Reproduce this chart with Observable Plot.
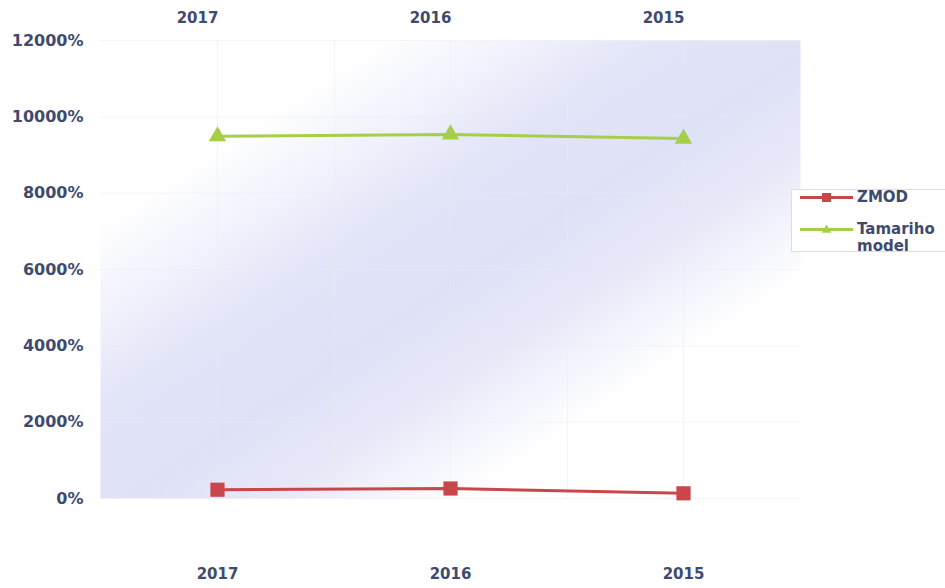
<!DOCTYPE html>
<html>
<head>
<meta charset="utf-8">
<script src="https://cdn.jsdelivr.net/npm/d3@7"></script>
<script src="https://cdn.jsdelivr.net/npm/@observablehq/plot@0.6"></script>
<style>
  html, body { margin: 0; padding: 0; background: #fff; }
  #wrap { position: relative; width: 945px; height: 588px; overflow: hidden; font-family: "DejaVu Sans", sans-serif; }
  #legend { position: absolute; left: 791px; top: 189px; width: 170px; height: 63px; border: 1px solid #dcdce2; background: #fff; box-sizing: border-box; }
  .item { position: absolute; left: 8px; display: flex; align-items: flex-start; }
  .lbl { font-weight: bold; font-size: 15px; color: #3e4a6e; line-height: 17px; margin-left: 4px; margin-top: -1px; }
</style>
</head>
<body>
<div id="wrap"></div>
<script>
const years = ["2017", "2016", "2015"];
const zmod = [230, 262, 136];
const tamariho = [9490, 9540, 9430];
const yTicks = [0, 2000, 4000, 6000, 8000, 10000, 12000];
const seriesNames = ["ZMOD", "Tamariho model"];
const seriesColors = ["#c9474b", "#a5cf48"];

const zRows = years.map((y, i) => ({year: y, value: zmod[i]}));
const tRows = years.map((y, i) => ({year: y, value: tamariho[i]}));
const textColor = "#3e4a6e";

const defs = () => {
  const d = d3.create("svg:defs");
  const g = d.append("linearGradient").attr("id", "bg")
    .attr("x1", 0).attr("y1", 0).attr("x2", 1).attr("y2", 1);
  [[0, "#ffffff"], [0.2, "#ffffff"], [0.4, "#e2e5f8"], [0.52, "#dfe2f7"], [0.62, "#e6e8f8"], [0.76, "#ffffff"], [1, "#ffffff"]]
    .forEach(([o, c]) => g.append("stop").attr("offset", o).attr("stop-color", c));
  return d.node();
};

const chart = Plot.plot({
  width: 945,
  height: 588,
  marginLeft: 100,
  marginRight: 145,
  marginTop: 40,
  marginBottom: 90,
  x: {type: "point", domain: years, padding: 0.5},
  y: {domain: [0, 12000]},
  style: {fontFamily: "DejaVu Sans", fontWeight: "bold", fontSize: "15px", color: textColor, background: "transparent"},
  marks: [
    defs,
    Plot.frame({fill: "url(#bg)", stroke: null}),
    Plot.gridY(yTicks, {stroke: "#e8e8f0", strokeOpacity: 0.45}),
    Plot.ruleX(years, {stroke: "#e8e8f0", strokeOpacity: 0.45}),
    Plot.ruleX(years.slice(0, 2), {stroke: "#e8e8f0", strokeOpacity: 0.45, dx: 117}),
    Plot.axisY({ticks: yTicks, tickFormat: d => d + "%", tickSize: 0, tickPadding: 17, fontSize: 16, label: null}),
    Plot.axisX({anchor: "top", tickSize: 0, tickPadding: 18, dx: -20, label: null}),
    Plot.axisX({anchor: "bottom", tickSize: 0, tickPadding: 70, label: null}),
    Plot.line(zRows, {x: "year", y: "value", stroke: seriesColors[0], strokeWidth: 3}),
    Plot.dot(zRows, {x: "year", y: "value", symbol: "square", r: 8, fill: seriesColors[0], stroke: null}),
    Plot.line(tRows, {x: "year", y: "value", stroke: seriesColors[1], strokeWidth: 3}),
    Plot.dot(tRows, {x: "year", y: "value", symbol: "triangle", r: 6.5, fill: seriesColors[1], stroke: null})
  ]
});

const wrap = document.getElementById("wrap");
wrap.appendChild(chart);

// Legend
const legend = document.createElement("div");
legend.id = "legend";
const mk = (i, top, lines, shape) => {
  const item = document.createElement("div");
  item.className = "item";
  item.style.top = top + "px";
  const s = d3.create("svg").attr("width", 53).attr("height", 15);
  s.append("line").attr("x1", 0).attr("x2", 53).attr("y1", 7.5).attr("y2", 7.5)
    .attr("stroke", seriesColors[i]).attr("stroke-width", 3);
  if (shape === "square") {
    s.append("rect").attr("x", 22).attr("y", 3).attr("width", 9).attr("height", 9).attr("fill", seriesColors[i]);
  } else {
    s.append("path").attr("d", d3.symbol(d3.symbolTriangle, 40)()).attr("transform", "translate(26.5,8)").attr("fill", seriesColors[i]);
  }
  item.appendChild(s.node());
  const l = document.createElement("div");
  l.className = "lbl";
  l.innerHTML = lines.join("<br>");
  item.appendChild(l);
  legend.appendChild(item);
};
mk(0, 0, [seriesNames[0]], "square");
mk(1, 32, ["Tamariho", "model"], "triangle");
wrap.appendChild(legend);
</script>
</body>
</html>
